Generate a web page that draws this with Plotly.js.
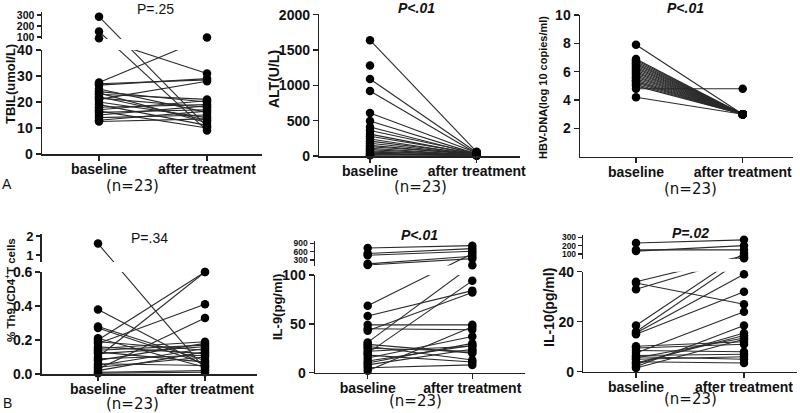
<!DOCTYPE html>
<html>
<head>
<meta charset="utf-8">
<script src="https://cdn.plot.ly/plotly-3.0.1.min.js"></script>
<style>
html, body {margin: 0; padding: 0; background: #fff;}
#plotArea {width: 800px; height: 413px;}
</style>
</head>
<body>
<div id="plotArea"></div>
<script>
// categories
var groups = ["baseline", "after treatment"];

// A: TBIL (umol/L)
var tbilBase  = [27.5, 27, 26.5, 25, 24, 23.5, 23, 22, 21.5, 21, 20, 19, 18, 17, 16.5, 16, 15, 14, 13, 12.5, 285, 150, 88];
var tbilAfter = [95, 28.5, 29, 16, 20, 12, 21, 13, 18, 28, 14, 11, 19, 20.5, 10, 17, 18.5, 15, 16.5, 13.5, 10.5, 9, 31];

// A: ALT (U/L)
var altBase  = [1640, 1280, 1090, 920, 610, 495, 410, 360, 310, 280, 240, 210, 180, 150, 130, 110, 90, 70, 55, 40, 30, 20, 10];
var altAfter = [60, null, 50, 35, 45, 30, 25, 40, 20, 30, 15, 25, 20, 18, 30, 12, 15, 10, 22, 8, 12, 5, 20];

// A: HBV-DNA (log 10 copies/ml)
var hbvBase  = [7.9, 6.9, 6.8, 6.7, 6.6, 6.5, 6.4, 6.3, 6.2, 6.1, 6.0, 5.9, 5.8, 5.7, 5.6, 5.5, 5.4, 5.3, 5.2, 5.1, 5.0, 4.8, 4.2];
var hbvAfter = [3, 3, 3, 3, 3, 3, 3, 3, 3, 3, 3, 3, 3, 3, 3, 3, 3, 3, 3, 3, 3, 4.8, 3];

// B: % Th9/CD4+T cells
var th9Base  = [1.6, 0.38, 0.28, 0.27, 0.21, 0.20, 0.19, 0.18, 0.16, 0.15, 0.14, 0.13, 0.12, 0.10, 0.09, 0.08, 0.06, 0.05, 0.04, 0.03, 0.02, 0.01, 0.005];
var th9After = [0.03, 0.05, 0.08, 0.06, 0.04, 0.6, 0.14, 0.41, 0.12, 0.19, 0.17, 0.07, 0.16, 0.6, 0.11, 0.18, 0.05, 0.15, 0.10, 0.33, 0.13, 0.02, 0.01];

// B: IL-9 (pg/ml)
var il9Base  = [730, 530, 470, 160, 120, 68.6, 58, 49, 45, 43, 31, 29, 27, 25, 22, 20, 18, 15, 12, 10, 8, 5, 2];
var il9After = [815, 707, 613, 433, 347, 527, 84, 49, 44, 82, 110, 20, 13, 22, 27, 94, 11, 37, 28, 30, 24, 8, 47];

// B: IL-10 (pg/ml)
var il10Base  = [232, 150, 135, 36, 35.5, 33, 18.5, 16, 15.5, 15, 10.2, 9.5, 8.5, 7.5, 6.5, 6, 5.5, 5, 4, 3.5, 3, 2, 1.5];
var il10After = [270, 150, 200, 80, 27, 60, 110, 48, 39, 32, 12, 11, 8, 24, 7, 5, 13.5, 6, 3.5, 14.5, 15.5, 18.5, 13];

// tick labels
var tbilTicks = [0, 10, 20, 30, 40], tbilUpTicks = [100, 200, 300];
var altTicks = [0, 500, 1000, 1500, 2000];
var hbvTicks = [2, 4, 6, 8, 10];
var th9Ticks = [0, 0.2, 0.4, 0.6], th9TickText = ["0.0", "0.2", "0.4", "0.6"], th9UpTicks = [1, 2];
var il9Ticks = [0, 50, 100], il9UpTicks = [300, 600, 900];
var il10Ticks = [0, 20, 40], il10UpTicks = [100, 200, 300];

var W = 800, H = 413;
var FONT = "Liberation Sans, Arial, sans-serif";
function fx(px) { return px / W; }
function fy(px) { return 1 - px / H; }

// panel geometry in page pixels; brk = broken (two segment) y axis
var panels = [
  {base: tbilBase, after: tbilAfter, xl: 42, xr: 262, xb: 99, xa: 207, yb: 154, yt: 12, max: 40, lowPx: 2.6,
   ticks: tbilTicks, brk: {min: 82, px: 0.11, gap: 11, ticks: tbilUpTicks, size: 10.5}},
  {base: altBase, after: altAfter, xl: 319.3, xr: 520, xb: 370, xa: 476.7, yb: 156, yt: 14, max: 2010,
   ticks: altTicks},
  {base: hbvBase, after: hbvAfter, xl: 580, xr: 793, xb: 636, xa: 742.7, yb: 156.7, yt: 15, max: 10,
   ticks: hbvTicks},
  {base: th9Base, after: th9After, xl: 41.7, xr: 256.7, xb: 98, xa: 205, yb: 374, yt: 234, max: 0.6, lowPx: 170,
   ticks: th9Ticks, tickText: th9TickText, brk: {min: 0.632, px: 19, gap: 10, ticks: th9UpTicks, size: 13}},
  {base: il9Base, after: il9After, xl: 315, xr: 525, xb: 367.7, xa: 472.3, yb: 372.7, yt: 241, max: 100, lowPx: 0.977,
   ticks: il9Ticks, brk: {min: 100, px: 0.02778, gap: 9.5, ticks: il9UpTicks, size: 8.5}},
  {base: il10Base, after: il10After, xl: 583.3, xr: 797, xb: 636, xa: 744, yb: 371.7, yt: 235, max: 40, lowPx: 2.5,
   ticks: il10Ticks, brk: {min: 40, px: 0.0833, gap: 12.7, ticks: il10UpTicks, size: 8.5}}
];

// value -> continuous axis units (upper segment squeezed above the break)
function tf(p, v) {
  if (!p.brk || v <= p.max) return v;
  return p.max + (p.brk.gap + (v - p.brk.min) * p.brk.px) / p.lowPx;
}

var axisStyle = {
  showline: true, linecolor: "#222", linewidth: 1.5,
  ticks: "outside", ticklen: 5, tickwidth: 1.5, tickcolor: "#222",
  showgrid: false, zeroline: false, fixedrange: true,
  tickfont: {family: FONT, size: 14, weight: "bold", color: "#111"}
};
function ax(extra) { return Object.assign({}, axisStyle, extra); }

var data = [];
var layout = {
  width: W, height: H, margin: {l: 0, r: 0, t: 0, b: 0},
  paper_bgcolor: "#fff", plot_bgcolor: "rgba(0,0,0,0)",
  showlegend: false, annotations: []
};

var upIdx = 7;
panels.forEach(function(p, i) {
  var k = i === 0 ? "" : String(i + 1);
  var xn = "x" + k, yn = "y" + k, un = null;
  if (!p.lowPx) p.lowPx = (p.yb - p.yt) / p.max;
  var unit = p.xa - p.xb;
  var lowTop = p.brk ? p.yb - p.max * p.lowPx : p.yt;

  layout["xaxis" + k] = ax({
    domain: [fx(p.xl), fx(p.xr)], anchor: yn,
    range: [-(p.xb - p.xl) / unit, (p.xr - p.xb) / unit],
    tickmode: "array", tickvals: [0, 1], ticktext: groups,
    ticklabelstandoff: -3
  });
  layout["yaxis" + k] = ax({
    domain: [fy(p.yb), fy(lowTop)], anchor: xn, range: [0, p.max],
    tickmode: "array", tickvals: p.ticks, ticktext: p.tickText || p.ticks.map(String)
  });

  var yAxes = [yn];
  if (p.brk) {
    un = "y" + upIdx;
    layout["yaxis" + upIdx] = ax({
      domain: [fy(lowTop - p.brk.gap), fy(p.yt)], anchor: xn,
      range: [p.max + p.brk.gap / p.lowPx, (p.yb - p.yt) / p.lowPx],
      tickmode: "array", tickvals: p.brk.ticks.map(function(v) { return tf(p, v); }),
      ticktext: p.brk.ticks.map(String), ticklen: 4,
      tickfont: {family: FONT, size: p.brk.size, weight: "bold", color: "#111"}
    });
    yAxes.push(un);
    upIdx++;
  }

  // connecting lines for each subject (drawn on both segments, each clips its own part)
  var lx = [], ly = [];
  p.base.forEach(function(b, j) {
    var a = p.after[j];
    if (a === null) return;
    lx.push(0, 1, null);
    ly.push(tf(p, b), tf(p, a), null);
  });
  yAxes.forEach(function(ya) {
    data.push({type: "scatter", mode: "lines", x: lx, y: ly, xaxis: xn, yaxis: ya,
      line: {color: "#2a2a2a", width: 1.1}, hoverinfo: "skip"});
  });

  // dots, split by segment
  var pts = {lo: {x: [], y: []}, hi: {x: [], y: []}};
  function addPt(xv, v) {
    if (v === null) return;
    var s = (p.brk && v > p.max) ? pts.hi : pts.lo;
    s.x.push(xv); s.y.push(tf(p, v));
  }
  p.base.forEach(function(b) { addPt(0, b); });
  p.after.forEach(function(a) { addPt(1, a); });
  data.push({type: "scatter", mode: "markers", x: pts.lo.x, y: pts.lo.y, xaxis: xn, yaxis: yn,
    cliponaxis: false, marker: {color: "#000", size: 8.5}, hoverinfo: "skip"});
  if (un) {
    data.push({type: "scatter", mode: "markers", x: pts.hi.x, y: pts.hi.y, xaxis: xn, yaxis: un,
      cliponaxis: false, marker: {color: "#000", size: 8.5}, hoverinfo: "skip"});
  }
});

function note(text, x, y, size, opts) {
  var a = Object.assign({
    text: text, x: fx(x), y: fy(y), xref: "paper", yref: "paper",
    xanchor: "center", yanchor: "middle", showarrow: false,
    font: {family: FONT, size: size, color: "#111"}
  }, opts || {});
  layout.annotations.push(a);
}

// p-values
note("P=.25", 155, 9, 14);
note("<b><i>P&lt;.01</i></b>", 416, 8, 14);
note("<b><i>P&lt;.01</i></b>", 685, 8, 14);
note("P=.34", 149, 238, 14);
note("<b><i>P&lt;.01</i></b>", 419, 235, 14);
note("<b><i>P=.02</i></b>", 690, 233, 14);

// y axis titles
var ytitle = {textangle: -90};
note("<b>TBIL(umol/L)</b>", 10, 84, 13, ytitle);
note("<b>ALT(U/L)</b>", 274, 79, 14, ytitle);
note("<b>HBV-DNA(log 10 copies/ml)</b>", 543, 88, 11, ytitle);
note("<b>% Th9 /CD4<sup>+</sup>T cells</b>", 10, 290, 11.5, ytitle);
note("<b>IL-9(pg/ml)</b>", 277, 307, 13, ytitle);
note("<b>IL-10(pg/ml)</b>", 549, 308, 14, ytitle);

// group sizes
var nFont = {font: {family: "DejaVu Sans, sans-serif", size: 15, color: "#111"}};
note("(n=23)", 132, 186, 15, nFont);
note("(n=23)", 420, 187, 15, nFont);
note("(n=23)", 690, 189, 15, nFont);
note("(n=23)", 132, 404, 15, nFont);
note("(n=23)", 415, 401, 15, nFont);
note("(n=23)", 690, 399, 15, nFont);

// panel letters
note("A", 7, 184, 14);
note("B", 7, 403, 14);

Plotly.newPlot("plotArea", data, layout, {displayModeBar: false, staticPlot: true});
</script>
</body>
</html>
